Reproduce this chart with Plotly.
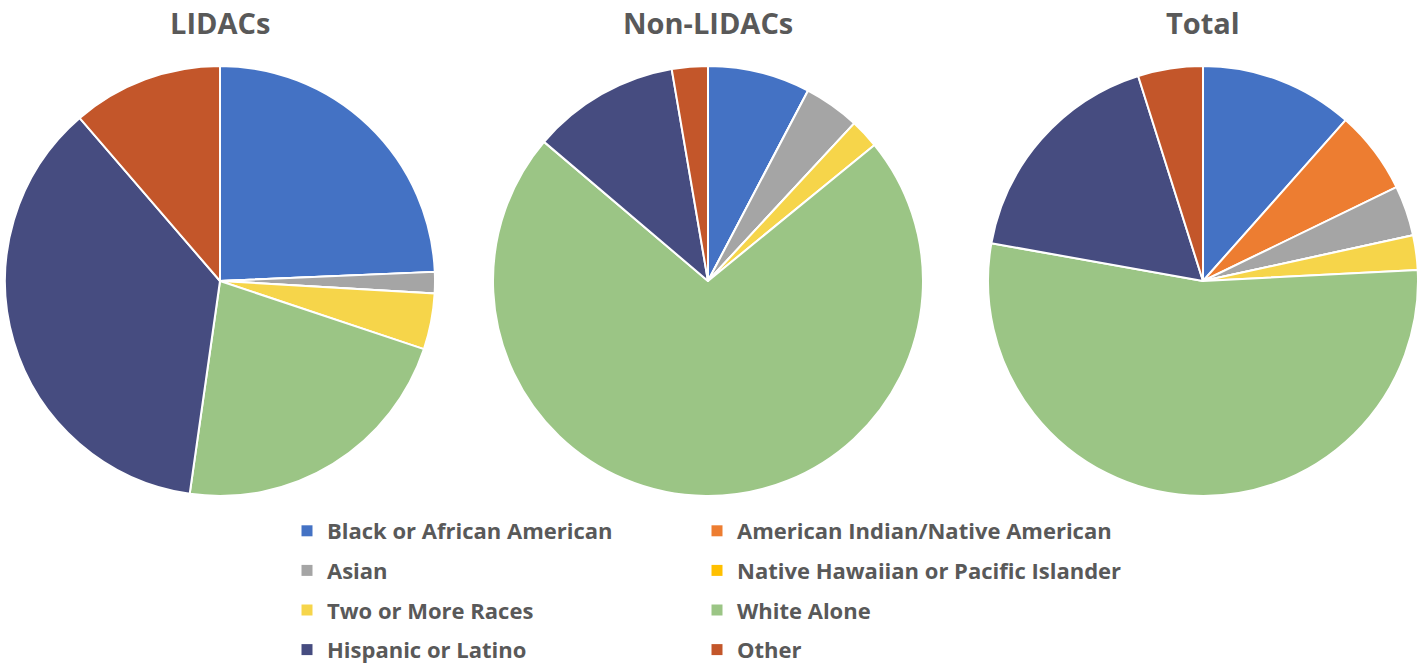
import plotly.graph_objects as go

categories = [
    "Black or African American",
    "American Indian/Native American",
    "Asian",
    "Native Hawaiian or Pacific Islander",
    "Two or More Races",
    "White Alone",
    "Hispanic or Latino",
    "Other",
]
colors = ["#4472C4", "#ED7D31", "#A5A5A5", "#FFC000", "#F6D54A", "#9BC585", "#464C80", "#C3562A"]

lidacs = [24.3, 0, 1.6, 0, 4.2, 22.1, 36.4, 11.3]
non_lidacs = [7.7, 0, 4.2, 0, 2.2, 72.1, 11.1, 2.7]
total = [11.6, 6.3, 3.8, 0, 2.6, 53.9, 17.4, 4.9]

titles = ["LIDACs", "Non-LIDACs", "Total"]
series = [lidacs, non_lidacs, total]

W, H = 1426, 666
centers = [220, 708, 1203]
R = 215
CY = 281

fig = go.Figure()
for name, vals, cx in zip(titles, series, centers):
    fig.add_trace(go.Pie(
        labels=categories, values=vals, name=name,
        sort=False, direction="clockwise", rotation=0,
        marker=dict(colors=colors, line=dict(color="white", width=2)),
        textinfo="none", showlegend=False,
        domain=dict(x=[(cx - R) / W, (cx + R) / W], y=[1 - (CY + R) / H, 1 - (CY - R) / H]),
    ))
    fig.add_annotation(text="<b>%s</b>" % name, x=cx / W, y=1 - 22 / H, xref="paper", yref="paper",
                       showarrow=False, xanchor="center", yanchor="middle",
                       font=dict(family="Open Sans", size=29, color="#595959"))

# legend entries: left column -> legend, right column -> legend2
for i, (cat, col) in enumerate(zip(categories, colors)):
    fig.add_trace(go.Scatter(
        x=[None], y=[None], mode="markers", name=cat,
        marker=dict(symbol="square", size=11, color=col),
        legend="legend" if i % 2 == 0 else "legend2",
        legendgroup=cat, hoverinfo="skip",
    ))

legend_common = dict(
    orientation="v", yanchor="top", xanchor="left", traceorder="grouped",
    tracegroupgap=8, bgcolor="rgba(0,0,0,0)",
    font=dict(family="Open Sans", size=22, color="#595959", weight="bold"),
)
fig.update_layout(
    width=W, height=H,
    margin=dict(l=0, r=0, t=0, b=0, autoexpand=False),
    paper_bgcolor="white", plot_bgcolor="white",
    xaxis=dict(visible=False), yaxis=dict(visible=False),
    legend=dict(x=287 / W, y=1 - 510 / H, **legend_common),
    legend2=dict(x=697 / W, y=1 - 510 / H, **legend_common),
)
fig.write_html("out.html", config={"displayModeBar": False},
               post_script="document.body.style.margin='0px';")
